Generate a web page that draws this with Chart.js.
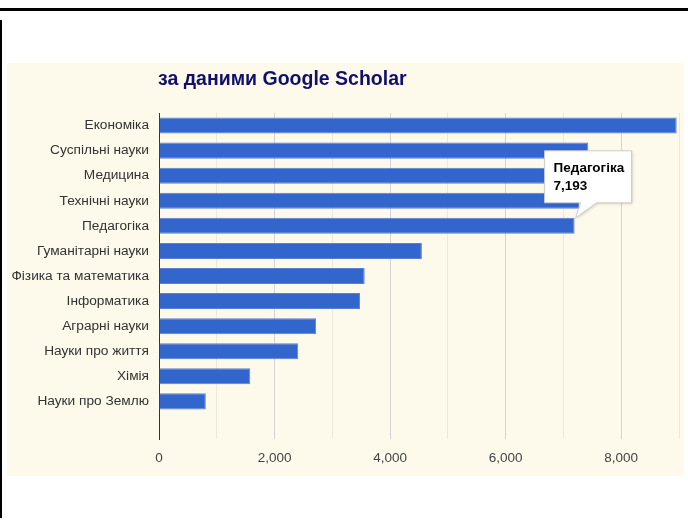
<!DOCTYPE html>
<html>
<head>
<meta charset="utf-8">
<script src="https://cdn.jsdelivr.net/npm/chart.js@4.4.1/dist/chart.umd.min.js"></script>
<style>
  body { margin: 0; background: #fff; width: 688px; height: 525px; position: relative; overflow: hidden; }
  #topLine { position: absolute; left: 0; top: 8px; width: 688px; height: 3px; background: #000; }
  #leftLine { position: absolute; left: 0; top: 20px; width: 2px; height: 498px; background: #000; }
  #box { position: absolute; left: 7px; top: 63px; width: 677px; height: 413px; background: #fdf9eb; }
</style>
</head>
<body>
<div id="topLine"></div>
<div id="leftLine"></div>
<div id="box"><canvas id="barChart" width="677" height="413"></canvas></div>
<script>
var chartTitle = 'за даними Google Scholar';
var categories = ['Економіка', 'Суспільні науки', 'Медицина', 'Технічні науки', 'Педагогіка',
  'Гуманітарні науки', 'Фізика та математика', 'Інформатика', 'Аграрні науки',
  'Науки про життя', 'Хімія', 'Науки про Землю', ''];
var values = [8960, 7430, 7310, 7270, 7193, 4550, 3560, 3480, 2720, 2410, 1580, 810, null];
var xMin = 0;
var xMax = 9000;
var xStep = 1000;
var tooltipIndex = 4;

function fmt(v) {
  return v.toLocaleString('en-US');
}

var titlePlugin = {
  id: 'leftTitle',
  afterDraw: function(chart) {
    var ctx = chart.ctx;
    ctx.save();
    ctx.font = 'bold 19.5px "Liberation Sans", Arial, sans-serif';
    ctx.fillStyle = '#10106c';
    ctx.textBaseline = 'alphabetic';
    ctx.fillText(chartTitle, chart.chartArea.left - 1, 22);
    ctx.restore();
  }
};

var calloutPlugin = {
  id: 'callout',
  afterDraw: function(chart) {
    var bar = chart.getDatasetMeta(0).data[tooltipIndex];
    var ctx = chart.ctx;
    var tx = bar.x + 1;
    var ty = bar.y - bar.height / 2;
    var left = tx - 31, top = ty - 67, w = 87, h = 52;
    ctx.save();
    ctx.beginPath();
    ctx.moveTo(left, top);
    ctx.lineTo(left + w, top);
    ctx.lineTo(left + w, top + h);
    ctx.lineTo(tx + 21, top + h);
    ctx.lineTo(tx, ty);
    ctx.lineTo(tx + 5, top + h);
    ctx.lineTo(left, top + h);
    ctx.closePath();
    ctx.shadowColor = 'rgba(0,0,0,0.18)';
    ctx.shadowBlur = 3;
    ctx.shadowOffsetX = 1;
    ctx.shadowOffsetY = 1;
    ctx.fillStyle = '#fff';
    ctx.fill();
    ctx.shadowColor = 'transparent';
    ctx.strokeStyle = '#cccccc';
    ctx.lineWidth = 1;
    ctx.stroke();
    ctx.fillStyle = '#000';
    ctx.font = 'bold 13.5px "Liberation Sans", Arial, sans-serif';
    ctx.fillText(chart.data.labels[tooltipIndex], left + 9, ty - 46);
    ctx.fillText(fmt(values[tooltipIndex]), left + 9, ty - 28);
    ctx.restore();
  }
};

function printBarChart(outputId) {
  var ctx = document.getElementById(outputId);
  var myChart = new Chart(ctx, {
    type: 'bar',
    data: {
      labels: categories,
      datasets: [{
        data: values,
        backgroundColor: '#3366cc',
        borderColor: '#5a80d6',
        borderWidth: 1,
        barPercentage: 0.64,
        categoryPercentage: 1
      }]
    },
    options: {
      indexAxis: 'y',
      responsive: false,
      animation: false,
      layout: { padding: { top: 50, right: 5, left: 0, bottom: 0 } },
      plugins: { legend: { display: false }, tooltip: { enabled: false } },
      scales: {
        x: {
          min: xMin,
          max: xMax,
          ticks: {
            stepSize: xStep,
            autoSkip: false,
            maxRotation: 0,
            padding: 11,
            color: '#444',
            font: { family: '"Liberation Sans", Arial, sans-serif', size: 13.5 },
            callback: function(v) { return v % 2000 === 0 ? fmt(v) : ''; }
          },
          grid: {
            drawTicks: false,
            color: function(c) {
              var v = c.tick ? c.tick.value : 0;
              if (v === 0) return 'rgba(0,0,0,0)';
              return v % 2000 === 0 ? '#d4d4d4' : '#ebe8dc';
            }
          },
          border: { display: false },
          afterFit: function(s) {
            s.height = 37;
            s.paddingLeft = 0;
            s.paddingRight = 0;
          }
        },
        y: {
          ticks: {
            autoSkip: false,
            padding: 10,
            color: '#333',
            font: { family: '"Liberation Sans", Arial, sans-serif', size: 13.7 }
          },
          grid: { display: false, drawTicks: false },
          border: { display: true, color: '#333', width: 1 },
          afterFit: function(s) {
            s.width = 152;
            s.paddingTop = 0;
            s.paddingBottom = 0;
          }
        }
      }
    },
    plugins: [titlePlugin, calloutPlugin]
  });
}

printBarChart('barChart');
</script>
</body>
</html>
